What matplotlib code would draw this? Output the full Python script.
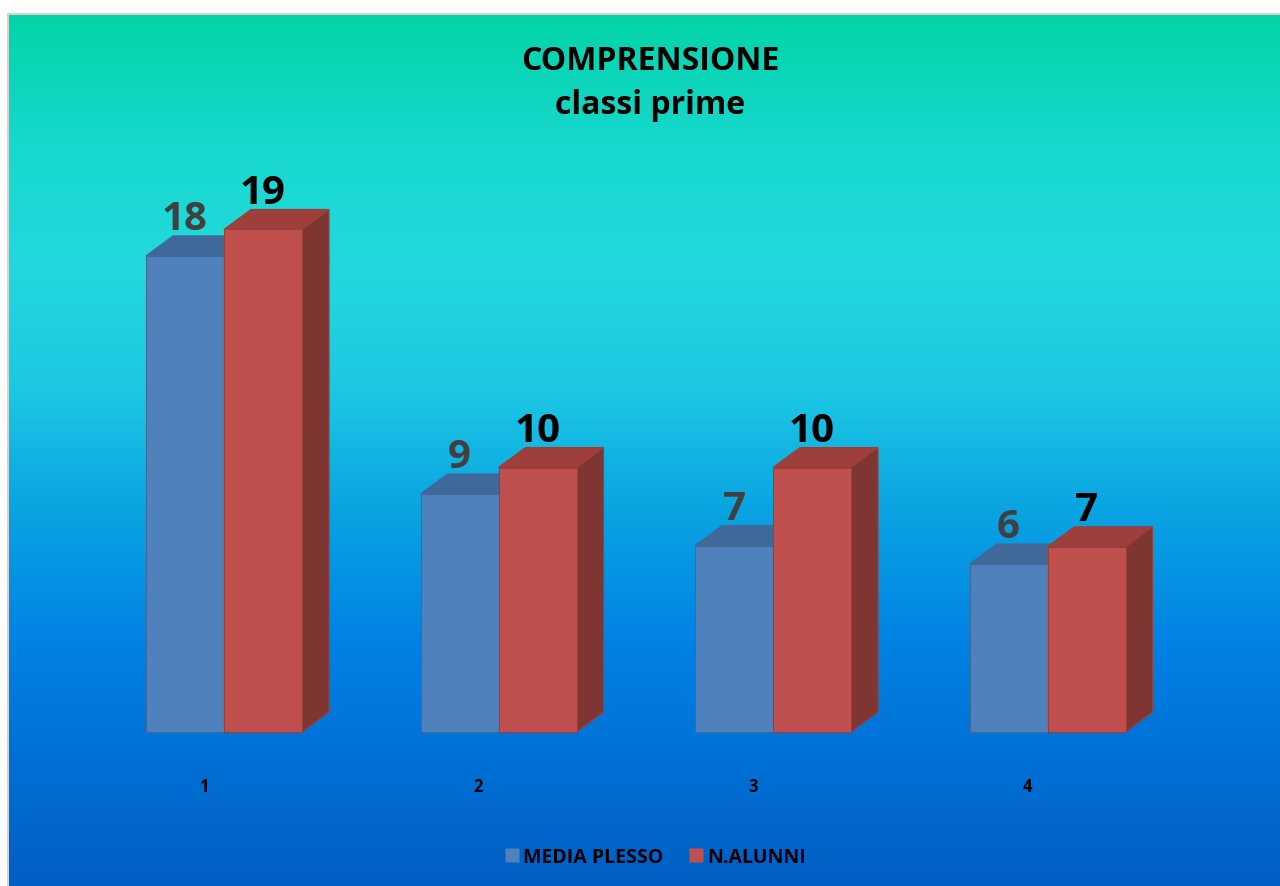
import numpy as np
import matplotlib
matplotlib.use("Agg")
from matplotlib import pyplot as plt
from matplotlib.patches import Polygon, Rectangle
from matplotlib.lines import Line2D
import matplotlib.colors as mcolors

# dati
categorie = ["1", "2", "3", "4"]
media_plesso = [18, 9, 7.05, 6.35]
n_alunni = [19, 10, 10, 7]
serie = ["MEDIA PLESSO", "N.ALUNNI"]

plt.rcParams["font.family"] = ["Open Sans", "DejaVu Sans"]

W, H = 1280, 887
fig = plt.figure(figsize=(W / 100, H / 100), dpi=100)
ax = fig.add_axes([0, 0, 1, 1])

# scala: centro gruppo i -> pixel 224 + 274.5*i ; valore v -> pixel 733 - 26.45*v
px_step = 274.5
py_unit = 26.45
ax.set_xlim((0 - 224) / px_step, (W - 224) / px_step)
ax.set_ylim((733 - H) / py_unit, 733 / py_unit)
ax.axis("off")

# sfondo sfumato (dall'alto verso il basso)
colori_sfondo = ["#03d4a8", "#16d8cc", "#22d8de", "#1cc8e2", "#0aa3e2", "#0184e4", "#0070d6", "#005fc4"]
cmap = mcolors.LinearSegmentedColormap.from_list("bg", colori_sfondo)
grad = np.linspace(0, 1, 256).reshape(-1, 1)
x0, x1 = 9 / W, 1.0
y0, y1 = 0.0, 1 - 16 / H
ax.imshow(grad, cmap=cmap, aspect="auto", extent=[x0, x1, y0, y1], origin="upper",
          transform=ax.transAxes, zorder=0, interpolation="bicubic")
ax.add_patch(Rectangle((x0 - 2 / W, y0), 2 / W, y1 - y0 + 2 / H, transform=ax.transAxes,
                       facecolor="#d4d4d4", edgecolor="none", zorder=1))
ax.add_patch(Rectangle((x0 - 2 / W, y1), 1, 2 / H, transform=ax.transAxes,
                       facecolor="#d4d4d4", edgecolor="none", zorder=1))

# barre 3D
bw = 78 / px_step
dx = 27 / px_step
dy = 20 / py_unit

stili = [
    {"front": "#4f81bd", "top": "#3e6998", "side": "#385d89", "edge": "#41699a", "lab": "#404040"},
    {"front": "#c0504d", "top": "#9e3f3c", "side": "#7f3531", "edge": "#9a3e3b", "lab": "#000000"},
]


def barra(xl, v, st, z):
    xr = xl + bw
    side = [(xr, 0), (xr + dx, dy), (xr + dx, v + dy), (xr, v)]
    top = [(xl, v), (xr, v), (xr + dx, v + dy), (xl + dx, v + dy)]
    ax.add_patch(Polygon(side, closed=True, facecolor=st["side"], edgecolor=st["edge"], lw=0.8, zorder=z))
    ax.add_patch(Polygon(top, closed=True, facecolor=st["top"], edgecolor=st["edge"], lw=0.8, zorder=z))
    ax.add_patch(Rectangle((xl, 0), bw, v, facecolor=st["front"], edgecolor=st["edge"], lw=0.8, zorder=z + 0.5))


for i in range(len(categorie)):
    for k, valori in enumerate([media_plesso, n_alunni]):
        xl = i - bw + k * bw
        barra(xl, valori[i], stili[k], 3 + k)
        ax.text(xl + bw / 2, valori[i] + dy - 0.09, f"{valori[i]:.0f}", ha="center", va="bottom",
                fontsize=29, fontweight="bold", color=stili[k]["lab"], zorder=6)
    ax.text(i - 20 / px_step, (733 - 787) / py_unit, categorie[i], ha="center", va="center",
            fontsize=12, fontweight="bold", color="black", zorder=6)

# titolo
fig.text(650 / W, 1 - 62 / H, "COMPRENSIONE", ha="center", va="center",
         fontsize=23, fontweight="bold", color="black")
fig.text(650 / W, 1 - 106 / H, "classi prime", ha="center", va="center",
         fontsize=23, fontweight="bold", color="black")

# legenda
handles = [Line2D([], [], marker="s", ls="none", markersize=10, markerfacecolor=stili[k]["front"],
                  markeredgecolor="none") for k in range(2)]
fig.legend(handles, serie, loc="center", bbox_to_anchor=(656 / W, 1 - 858 / H), ncol=2,
           frameon=False, handlelength=0.6, handletextpad=0.25, columnspacing=1.4,
           prop={"weight": "bold", "size": 14})

plt.savefig("out.png", dpi=100)
